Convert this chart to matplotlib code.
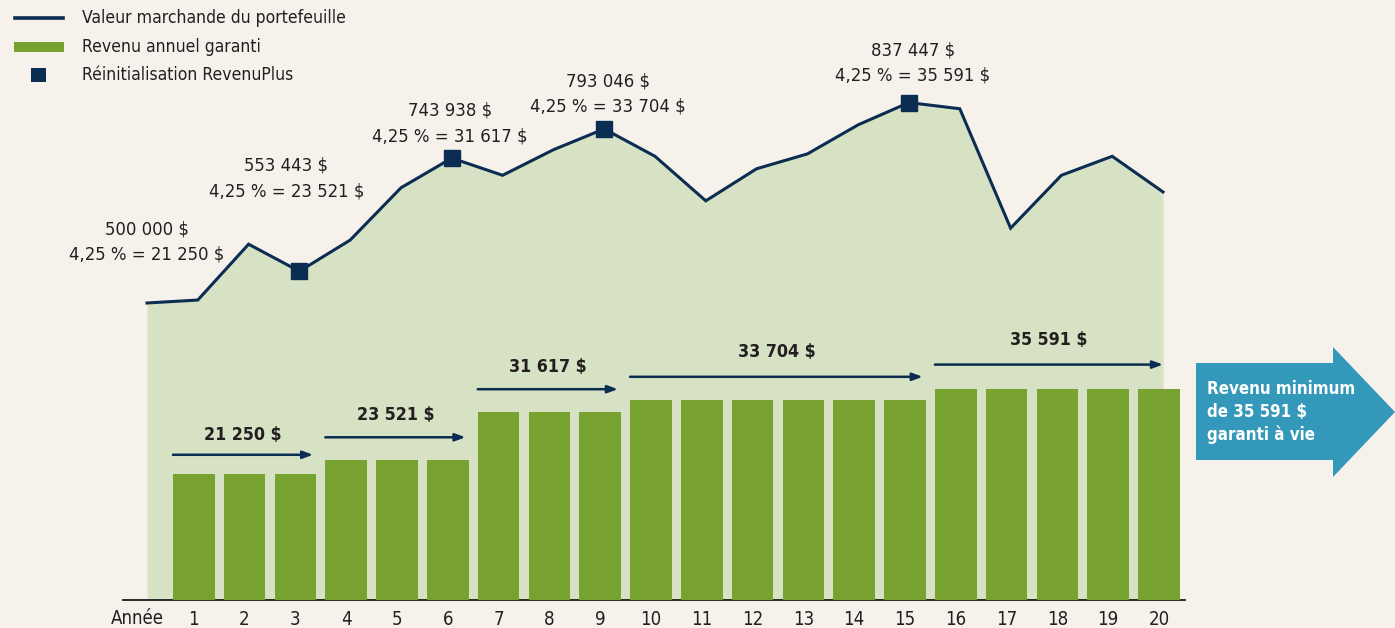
import matplotlib
matplotlib.use("Agg")
import matplotlib.pyplot as plt
import matplotlib.transforms as mtrans
from matplotlib import font_manager as fm
from matplotlib.patches import Polygon, Rectangle
from matplotlib.lines import Line2D

# ---------------- data ----------------
years_line = list(range(0, 21))
market_value = [500000, 505000, 599000, 553443, 606000, 694000, 743938, 715000,
                758000, 793046, 747000, 672000, 726000, 751000, 800000, 837447,
                827000, 626000, 715000, 747000, 687000]
years_bar = list(range(1, 21))
income = [21250]*3 + [23521]*3 + [31617]*3 + [33704]*6 + [35591]*5
reset_years = [3, 6, 9, 15]
reset_values = [553443, 743938, 793046, 837447]
annot_years = [0, 3, 6, 9, 15]
annot_texts = ["500 000 $\n4,25 % = 21 250 $",
               "553 443 $\n4,25 % = 23 521 $",
               "743 938 $\n4,25 % = 31 617 $",
               "793 046 $\n4,25 % = 33 704 $",
               "837 447 $\n4,25 % = 35 591 $"]
group_first = [1, 4, 7, 10, 16]
group_last = [3, 6, 9, 15, 20]
group_income = [21250, 23521, 31617, 33704, 35591]
group_labels = ["21 250 $", "23 521 $", "31 617 $", "33 704 $", "35 591 $"]
legend_labels = ["Valeur marchande du portefeuille", "Revenu annuel garanti",
                 "Réinitialisation RevenuPlus"]
xlabel_text = "Année"
callout_text = "Revenu minimum\nde 35 591 $\ngaranti à vie"

# ---------------- style ----------------
BG = "#F6F2EB"
AREA = "#D6E2C3"
BAR = "#78A22F"
NAVY = "#0C2D52"
BLUE = "#3398BA"
TXT = "#231F20"

names = {f.name for f in fm.fontManager.ttflist}
if "Liberation Sans Narrow" in names:
    plt.rcParams["font.family"] = ["Liberation Sans Narrow", "DejaVu Sans"]
else:
    plt.rcParams["font.family"] = ["DejaVu Sans"]
    plt.rcParams["font.stretch"] = "condensed"

W, H = 1395, 628
fig = plt.figure(figsize=(W/100, H/100), dpi=100, facecolor=BG)

def fx(px):
    return px / W
def fy(py):
    return 1 - py / H

# axes: x from pixel 123 to 1185, y from baseline 600 to top 0
px_per_year = 50.8
x0_px = 147
ax_left, ax_right = 123, 1185
xlim = ((ax_left - x0_px) / px_per_year, (ax_right - x0_px) / px_per_year)
ax = fig.add_axes([fx(ax_left), fy(600), (ax_right-ax_left)/W, 600/H])
ax.set_facecolor("none")
ymax = 600 / 0.000594
ax.set_xlim(*xlim)
ax.set_ylim(0, ymax)

ax.fill_between(years_line, market_value, 0, color=AREA, lw=0, zorder=1)
ax.plot(years_line, market_value, color=NAVY, lw=2.2, zorder=3, solid_joinstyle="miter")
ax.plot(reset_years, reset_values, ls="none", marker="s", ms=11, color=NAVY, zorder=4)

bar_off = -0.08
ax.set_xticks([y + bar_off for y in years_bar])
ax.set_xticklabels([str(y) for y in years_bar], fontsize=13.4, color=TXT)
ax.tick_params(axis="x", length=0, pad=7)

ax2 = ax.twinx()
ax2.set_ylim(0, ymax/10)
ax2.bar([y + bar_off for y in years_bar], income, width=0.82, color=BAR, lw=0, zorder=2)

for a in (ax, ax2):
    for s in ("top", "right", "left"):
        a.spines[s].set_visible(False)
    a.set_yticks([])
ax.spines["bottom"].set_color("#1a1a1a")
ax.spines["bottom"].set_linewidth(1.3)
ax2.spines["bottom"].set_visible(False)
fig.text(fx(137), fy(618), xlabel_text, ha="center", va="center", fontsize=13.4, color=TXT)

# annotations above reset points
annot_dx = [0, -13, -2, 4, 4]
annot_dy = [39, 71, 13, 13, 18]
for yr, txt, dx, dy in zip(annot_years, annot_texts, annot_dx, annot_dy):
    v = market_value[yr]
    ax.annotate(txt, xy=(yr, v), xytext=(dx, dy), textcoords="offset pixels",
                ha="center", va="bottom", fontsize=13.2, color=TXT, linespacing=1.52,
                zorder=5)

# group arrows and labels
arrow_dy = [19, 23, 23, 23, 24]
label_dy = [39, 45, 45, 48, 49]
for i, (a, b, v, lab) in enumerate(zip(group_first, group_last, group_income, group_labels)):
    xs = a + bar_off - 0.41
    xe = b + bar_off + 0.41 - 0.06
    if i == len(group_first) - 1:
        xe = b
    arrow_trans = mtrans.offset_copy(ax2.transData, fig=fig, y=arrow_dy[i], units="dots")
    label_trans = mtrans.offset_copy(ax2.transData, fig=fig, y=label_dy[i], units="dots")
    ax2.annotate("", xy=(xe, v), xytext=(xs, v), xycoords=arrow_trans,
                 textcoords=arrow_trans,
                 arrowprops=dict(arrowstyle="-|>,head_length=0.6,head_width=0.22",
                                 color=NAVY, lw=1.8, shrinkA=0, shrinkB=0))
    ax2.text((xs + xe) / 2, v, lab, transform=label_trans, ha="center", va="center",
             fontsize=12.8, fontweight="bold", color=TXT)

# big callout arrow
pts = [(1196, 363), (1333, 363), (1333, 347), (1395, 412), (1333, 477),
       (1333, 460), (1196, 460)]
fig.patches.append(Polygon([(fx(x), fy(y)) for x, y in pts], closed=True,
                           transform=fig.transFigure, facecolor=BLUE, lw=0))
fig.text(fx(1207), fy(412), callout_text, ha="left", va="center", fontsize=12.2,
         fontweight="bold", color="white", linespacing=1.35)

# legend
fig.add_artist(Line2D([fx(15), fx(63)], [fy(18), fy(18)], transform=fig.transFigure,
                      color=NAVY, lw=2.6))
fig.patches.append(Rectangle((fx(14), fy(52)), 50/W, 10/H, transform=fig.transFigure,
                             facecolor=BAR, lw=0))
fig.patches.append(Rectangle((fx(31), fy(82)), 15/W, 14/H, transform=fig.transFigure,
                             facecolor=NAVY, lw=0))
for yy, lab in zip([18, 47, 75], legend_labels):
    fig.text(fx(82), fy(yy), lab, ha="left", va="center", fontsize=12.6, color=TXT)

fig.savefig("out.png", dpi=100, facecolor=BG)
